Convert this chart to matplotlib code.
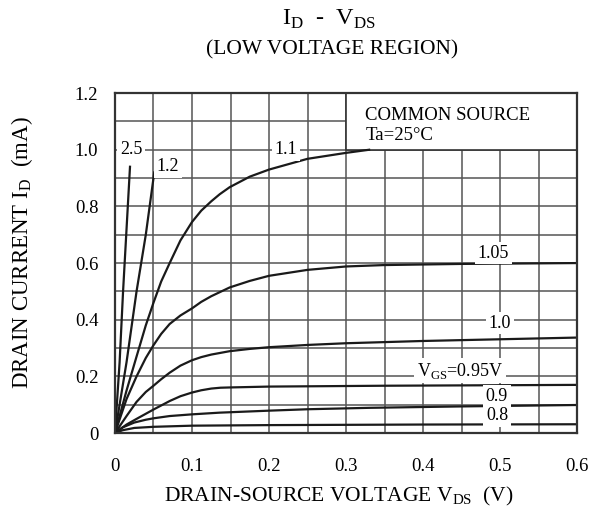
import matplotlib.pyplot as plt
from matplotlib.patches import Rectangle

plt.rcParams['font.family'] = ['Liberation Serif', 'DejaVu Serif']
plt.rcParams['mathtext.fontset'] = 'custom'
plt.rcParams['mathtext.rm'] = 'Liberation Serif'

# curves: VDS (V), ID (mA)
vds_25 = [0, 0.006, 0.0105, 0.0195]
id_25 = [0, 0.25, 0.50, 0.94]

vds_12 = [0, 0.015, 0.028, 0.040, 0.051]
id_12 = [0, 0.25, 0.50, 0.70, 0.92]

vds_11 = [0, 0.015, 0.028, 0.04, 0.05, 0.06, 0.071, 0.085, 0.1, 0.112, 0.125,
          0.136, 0.149, 0.175, 0.2, 0.25, 0.3, 0.33]
id_11 = [0, 0.15, 0.27, 0.38, 0.46, 0.535, 0.60, 0.68, 0.745, 0.785, 0.818,
         0.843, 0.868, 0.905, 0.93, 0.968, 0.989, 1.0]

vds_105 = [0, 0.015, 0.028, 0.04, 0.05, 0.06, 0.071, 0.085, 0.1, 0.112, 0.125,
           0.149, 0.175, 0.2, 0.25, 0.3, 0.35, 0.45, 0.6]
id_105 = [0, 0.12, 0.20, 0.265, 0.31, 0.35, 0.385, 0.415, 0.44, 0.463, 0.483,
          0.514, 0.537, 0.555, 0.576, 0.588, 0.593, 0.597, 0.60]

vds_10 = [0, 0.015, 0.028, 0.04, 0.05, 0.06, 0.071, 0.085, 0.1, 0.112, 0.125,
          0.149, 0.175, 0.2, 0.25, 0.3, 0.4, 0.5, 0.6]
id_10 = [0, 0.06, 0.11, 0.145, 0.167, 0.19, 0.213, 0.238, 0.257, 0.268, 0.277,
         0.289, 0.297, 0.303, 0.311, 0.317, 0.325, 0.331, 0.337]

vds_095 = [0, 0.015, 0.028, 0.05, 0.071, 0.085, 0.1, 0.112, 0.125, 0.137, 0.15,
           0.2, 0.35, 0.6]
id_095 = [0, 0.03, 0.05, 0.083, 0.113, 0.13, 0.143, 0.151, 0.157, 0.16, 0.161,
          0.164, 0.167, 0.17]

vds_09 = [0, 0.01, 0.025, 0.04, 0.05, 0.071, 0.1, 0.136, 0.2, 0.25, 0.33, 0.45, 0.6]
id_09 = [0, 0.02, 0.037, 0.047, 0.052, 0.06, 0.066, 0.072, 0.079, 0.084, 0.089,
         0.094, 0.099]

vds_08 = [0, 0.01, 0.025, 0.05, 0.1, 0.2, 0.4, 0.6]
id_08 = [0, 0.01, 0.018, 0.022, 0.026, 0.028, 0.030, 0.031]

curves = [(vds_25, id_25), (vds_12, id_12), (vds_11, id_11), (vds_105, id_105),
          (vds_10, id_10), (vds_095, id_095), (vds_09, id_09), (vds_08, id_08)]

# curve labels: text, x, y
labels = [('2.5', 0.021, 1.0), ('1.2', 0.069, 0.94), ('1.1', 0.222, 1.0),
          ('1.05', 0.491, 0.635), ('1.0', 0.5, 0.388),
          (r'V$_\mathregular{GS}$=0.95V', 0.448, 0.22),
          ('0.9', 0.496, 0.129), ('0.8', 0.496, 0.061)]

x_ticks = [0, 0.1, 0.2, 0.3, 0.4, 0.5, 0.6]
x_ticklabels = ['0', '0.1', '0.2', '0.3', '0.4', '0.5', '0.6']
y_ticks = [0, 0.2, 0.4, 0.6, 0.8, 1.0, 1.2]
y_ticklabels = ['0', '0.2', '0.4', '0.6', '0.8', '1.0', '1.2']

fig = plt.figure(figsize=(6.1, 5.23), dpi=100)
ax = fig.add_axes([0.1885, 0.172, 0.7575, 0.65])

ax.set_xlim(0, 0.6)
ax.set_ylim(0, 1.2)
ax.set_xticks(x_ticks)
ax.set_xticklabels(x_ticklabels)
ax.set_yticks(y_ticks)
ax.set_yticklabels(y_ticklabels)
ax.set_xticks([0.05, 0.15, 0.25, 0.35, 0.45, 0.55], minor=True)
ax.set_yticks([0.1, 0.3, 0.5, 0.7, 0.9, 1.1], minor=True)
ax.tick_params(which='both', length=0, labelsize=13.5)
ax.tick_params(axis='x', pad=18)
ax.tick_params(axis='y', pad=12)
ax.set_axisbelow(True)
ax.grid(True, which='both', color='#555555', linewidth=1.1)
for s in ax.spines.values():
    s.set_color('#333333')
    s.set_linewidth(1.6)

# box in the upper right corner hides the grid
ax.add_patch(Rectangle((0.3, 1.0), 0.3, 0.2, facecolor='white',
                       edgecolor='#333333', linewidth=1.2, zorder=1))
ax.text(0.325, 1.12, 'COMMON SOURCE', fontsize=13.5, va='center', zorder=3)
ax.text(0.325, 1.05, 'Ta=25\u00b0C', fontsize=13.5, va='center', zorder=3)

for v, i in curves:
    ax.plot(v, i, color='#1a1a1a', linewidth=1.6, zorder=2)

for txt, x, y in labels:
    ax.text(x, y, txt, fontsize=13, ha='center', va='center', zorder=3,
            bbox=dict(facecolor='white', edgecolor='none', pad=2))

fig.text(0.54, 0.962, r'I$_\mathregular{D}$  -  V$_\mathregular{DS}$',
         fontsize=17.5, ha='center', va='center')
fig.text(0.545, 0.905, '(LOW VOLTAGE REGION)', fontsize=15.5, ha='center', va='center')
fig.text(0.555, 0.05, r'DRAIN-SOURCE VOLTAGE V$_\mathregular{DS}$  (V)',
         fontsize=15.5, ha='center', va='center')
fig.text(0.036, 0.516, r'DRAIN CURRENT I$_\mathregular{D}$  (mA)',
         fontsize=16.5, ha='center', va='center', rotation=90)

fig.savefig('out.png', dpi=100)
